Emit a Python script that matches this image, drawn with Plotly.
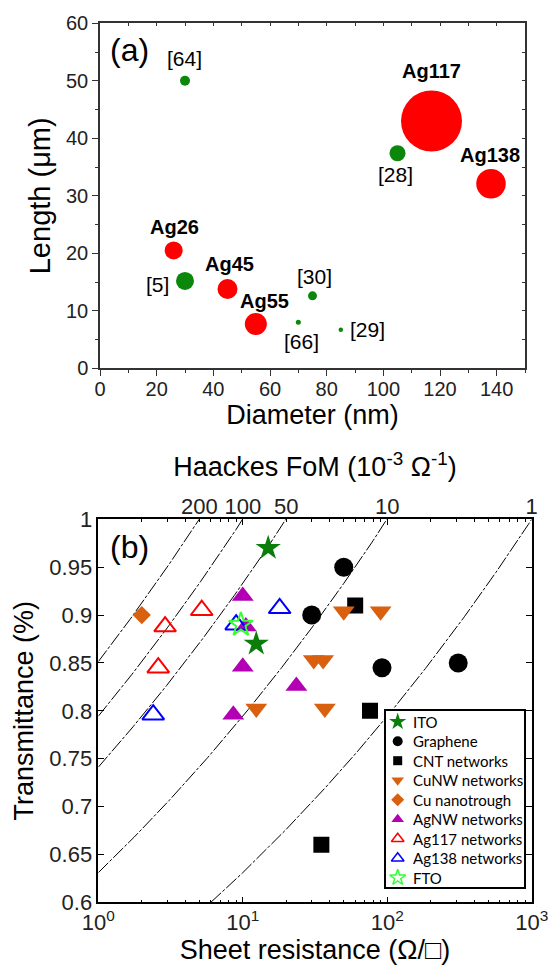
import numpy as np
import plotly.graph_objects as go

# ---------------- (a) nanowire diameter / length ----------------
ag_names = ["Ag26", "Ag45", "Ag55", "Ag117", "Ag138"]
ag_diameter = [26, 45, 55, 117, 138]
ag_length = [20.5, 13.8, 7.7, 43.0, 32.1]
ag_bubble = [1.8, 2.0, 2.2, 6.1, 2.95]

ref_names = ["[64]", "[5]", "[28]", "[30]", "[66]", "[29]"]
ref_diameter = [30, 30, 105, 75, 70, 85]
ref_length = [50.0, 15.2, 37.4, 12.6, 8.0, 6.7]
ref_bubble = [1.0, 1.8, 1.6, 0.9, 0.5, 0.45]

# ---------------- (b) transmittance vs sheet resistance ----------------
ito_rs = [15.0, 12.4]
ito_t = [0.97, 0.87]
graphene_rs = [50, 30, 92, 310]
graphene_t = [0.95, 0.90, 0.845, 0.85]
cnt_rs = [60, 76, 35]
cnt_t = [0.91, 0.80, 0.66]
cunw_rs = [50, 90, 31, 36, 12.4, 37]
cunw_t = [0.904, 0.904, 0.853, 0.853, 0.8025, 0.8025]
cutrough_rs = [2.0]
cutrough_t = [0.90]
agnw_rs = [10, 10.5, 10, 23.5, 8.6]
agnw_t = [0.92, 0.888, 0.846, 0.826, 0.796]
ag117_rs = [2.9, 5.2, 2.6]
ag117_t = [0.888, 0.905, 0.845]
ag138_rs = [18, 9, 2.4]
ag138_t = [0.907, 0.890, 0.796]
fto_rs = [9.7]
fto_t = [0.89]

# Haacke figure of merit levels (Ohm^-1) for the guide curves
fom_levels = [0.2, 0.1, 0.05, 0.01, 0.001]
fom_labels = [str(int(round(f * 1000))) for f in fom_levels]

x_ticks_b = [1, 10, 100, 1000]
x_ticktext_b = ["10<sup>0</sup>", "10<sup>1</sup>", "10<sup>2</sup>", "10<sup>3</sup>"]
y_ticks_b = [0.6, 0.65, 0.7, 0.75, 0.8, 0.85, 0.9, 0.95, 1.0]
y_ticktext_b = ["0.6", "0.65", "0.7", "0.75", "0.8", "0.85", "0.9", "0.95", "1"]

W, H = 549, 968
ARIAL = "Liberation Sans"
RED = "#ff0000"
GREEN_A = "#0b870b"

fig = go.Figure()

# ---- panel (a) bubbles ----
fig.add_trace(go.Scatter(
    x=ref_diameter, y=ref_length, mode="markers", xaxis="x", yaxis="y",
    marker=dict(size=ref_bubble, sizemode="diameter", sizeref=0.1, opacity=1,
                color=GREEN_A, line=dict(width=0)),
    showlegend=False, hoverinfo="skip"))
fig.add_trace(go.Scatter(
    x=ag_diameter, y=ag_length, mode="markers", xaxis="x", yaxis="y",
    marker=dict(size=ag_bubble, sizemode="diameter", sizeref=0.1, opacity=1,
                color=RED, line=dict(width=0)),
    showlegend=False, hoverinfo="skip"))
# carriers for the inward ticks on the top / right frame of (a)
fig.add_trace(go.Scatter(x=[None], y=[None], xaxis="x3", yaxis="y",
                         showlegend=False, hoverinfo="skip"))
fig.add_trace(go.Scatter(x=[None], y=[None], xaxis="x", yaxis="y3",
                         showlegend=False, hoverinfo="skip"))

# label offsets (pixels) for each bubble
ag_shift = [(1, 23.5), (2, 24.5), (9, 23), (0, 49.6), (-1, 29)]
ref_shift = [(-1, 22), (-28, -4), (-2, -21), (2, 19), (3, -19), (27, 0)]

annotations = []
for name, xv, yv, (dx, dy) in zip(ag_names, ag_diameter, ag_length, ag_shift):
    annotations.append(dict(x=xv, y=yv, xref="x", yref="y", text=f"<b>{name}</b>",
                            showarrow=False, xshift=dx, yshift=dy,
                            font=dict(family=ARIAL, size=20, color="black")))
for name, xv, yv, (dx, dy) in zip(ref_names, ref_diameter, ref_length, ref_shift):
    annotations.append(dict(x=xv, y=yv, xref="x", yref="y", text=name,
                            showarrow=False, xshift=dx, yshift=dy,
                            font=dict(family=ARIAL, size=21, color="black")))
annotations.append(dict(x=129.5 / W, y=1 - 50 / H, xref="paper", yref="paper",
                        xanchor="center", yanchor="middle",
                        text="(a)", showarrow=False,
                        font=dict(family=ARIAL, size=32, color="black")))
annotations.append(dict(x=129 / W, y=1 - 546.7 / H, xref="paper", yref="paper",
                        xanchor="center", yanchor="middle",
                        text="(b)", showarrow=False,
                        font=dict(family=ARIAL, size=32, color="black")))

# ---- panel (b) iso-FoM curves ----
rs_grid = np.logspace(0, 3, 400)
for f in fom_levels:
    fig.add_trace(go.Scatter(
        x=rs_grid, y=(f * rs_grid) ** 0.1, mode="lines", xaxis="x2", yaxis="y2",
        line=dict(color="black", width=1, dash="14px,2px,3px,2px"),
        showlegend=False, hoverinfo="skip"))

# ---- panel (b) materials: (name, Rs, T, marker style, key size in the legend box) ----
series_b = [
    ("ITO", ito_rs, ito_t, dict(symbol="star", size=19, color="#0a7d0a"), 13),
    ("Graphene", graphene_rs, graphene_t, dict(symbol="circle", size=19, color="black"), 10),
    ("CNT networks", cnt_rs, cnt_t, dict(symbol="square", size=16, color="black"), 9),
    ("CuNW networks", cunw_rs, cunw_t, dict(symbol="triangle-down", size=19, color="#d9600f"), 11),
    ("Cu nanotrough", cutrough_rs, cutrough_t, dict(symbol="diamond", size=14, color="#d9600f"), 10),
    ("AgNW networks", agnw_rs, agnw_t, dict(symbol="triangle-up", size=19, color="#b400b4"), 11),
    ("Ag117 networks", ag117_rs, ag117_t,
     dict(symbol="triangle-up-open", size=19, color=RED, line=dict(width=2, color=RED)), 11),
    ("Ag138 networks", ag138_rs, ag138_t,
     dict(symbol="triangle-up-open", size=19, color="#0000ff", line=dict(width=2, color="#0000ff")), 11),
    ("FTO", fto_rs, fto_t,
     dict(symbol="star-open", size=18, color="#33ff33", line=dict(width=2, color="#33ff33")), 12),
]
for name, xs, ys, mk, _ in series_b:
    fig.add_trace(go.Scatter(x=xs, y=ys, mode="markers", name=name, xaxis="x2", yaxis="y2",
                             marker=mk, showlegend=False, hoverinfo="skip"))

# carrier for the Haacke FoM labels on top of (b)
fig.add_trace(go.Scatter(x=[None], y=[None], xaxis="x4", yaxis="y2",
                         showlegend=False, hoverinfo="skip"))

# ---- legend box for (b), laid out on its own small pixel-scaled axes ----
LEG_W, LEG_H = 138, 176
LEG_ROW0, LEG_STEP = 10.7, 19.5
KEY_X, TEXT_X = 11.7, 24.5
fig.add_trace(go.Scatter(x=[0, LEG_W, LEG_W, 0, 0], y=[0, 0, LEG_H, LEG_H, 0],
                         mode="lines", fill="toself", fillcolor="white",
                         line=dict(width=0), xaxis="x5", yaxis="y5",
                         showlegend=False, hoverinfo="skip"))
for i, (name, _, _, mk, key_size) in enumerate(series_b):
    key = dict(mk)
    key["size"] = key_size
    if "line" in key:
        key["line"] = dict(key["line"], width=1.5)
    row_y = LEG_ROW0 + i * LEG_STEP
    fig.add_trace(go.Scatter(x=[KEY_X], y=[row_y], mode="markers", marker=key,
                             xaxis="x5", yaxis="y5", showlegend=False, hoverinfo="skip"))
    annotations.append(dict(x=TEXT_X, y=row_y, xref="x5", yref="y5", text=name,
                            xanchor="left", yanchor="middle", showarrow=False,
                            font=dict(family="Lato", size=15, color="black")))

frame_a = "#333333"
tickfont_a = dict(family=ARIAL, size=20, color="#222")
tickfont_b = dict(family=ARIAL, size=22, color="#222")

fig.update_layout(
    width=W, height=H,
    margin=dict(l=0, r=0, t=0, b=0, autoexpand=False),
    paper_bgcolor="white", plot_bgcolor="white",
    annotations=annotations,
    xaxis=dict(domain=[100 / W, 525 / W], anchor="y", range=[0, 150],
               tickmode="array", tickvals=list(range(0, 141, 20)),
               ticks="outside", ticklen=6, tickwidth=1.3, tickcolor=frame_a,
               minor=dict(dtick=10, tick0=0, ticks="outside", ticklen=3,
                          tickwidth=1.3, tickcolor=frame_a, showgrid=False),
               showline=True, linecolor=frame_a, linewidth=1.5, mirror=True,
               showgrid=False, zeroline=False, tickfont=tickfont_a, automargin=False,
               ticklabelstandoff=-4,
               title=dict(text="Diameter (nm)", standoff=1,
                          font=dict(family=ARIAL, size=27, color="black"))),
    yaxis=dict(domain=[1 - 368.3 / H, 1 - 23.3 / H], anchor="x", range=[0, 60],
               tickmode="array", tickvals=list(range(0, 61, 10)),
               ticks="outside", ticklen=6, tickwidth=1.3, tickcolor=frame_a,
               minor=dict(dtick=5, tick0=0, ticks="outside", ticklen=3,
                          tickwidth=1.3, tickcolor=frame_a, showgrid=False),
               showline=True, linecolor=frame_a, linewidth=1.5, mirror=True,
               showgrid=False, zeroline=False, tickfont=tickfont_a, automargin=False,
               title=dict(text="Length (μm)", standoff=7,
                          font=dict(family=ARIAL, size=29, color="black"))),
    xaxis3=dict(overlaying="x", anchor="y", side="top", range=[0, 150],
                tickmode="linear", tick0=0, dtick=10, ticks="inside", ticklen=3,
                tickwidth=1.3, tickcolor=frame_a, showticklabels=False, automargin=False,
                showline=False, showgrid=False, zeroline=False),
    yaxis3=dict(overlaying="y", anchor="x", side="right", range=[0, 60],
                tickmode="linear", tick0=0, dtick=5, ticks="inside", ticklen=3,
                tickwidth=1.3, tickcolor=frame_a, showticklabels=False, automargin=False,
                showline=False, showgrid=False, zeroline=False),
    xaxis2=dict(domain=[98.3 / W, 531.7 / W], anchor="y2", type="log", range=[0, 3],
                tickmode="array", tickvals=x_ticks_b, ticktext=x_ticktext_b,
                ticks="inside", ticklen=6, tickwidth=1, tickcolor="black",
                minor=dict(tickmode="array",
                           tickvals=[m * 10 ** e for e in range(3) for m in range(2, 10)],
                           ticks="inside", ticklen=3, tickwidth=1, tickcolor="black",
                           showgrid=False),
                showline=True, linecolor="black", linewidth=1.5, mirror="ticks",
                showgrid=False, zeroline=False, tickfont=tickfont_b, automargin=False,
                title=dict(text="Sheet resistance (Ω/□)", standoff=2,
                           font=dict(family=ARIAL, size=27, color="black"))),
    yaxis2=dict(domain=[1 - 902.3 / H, 1 - 519.3 / H], anchor="x2", range=[0.6, 1.0],
                tickmode="array", tickvals=y_ticks_b, ticktext=y_ticktext_b,
                ticks="inside", ticklen=6, tickwidth=1, tickcolor="black",
                showline=True, linecolor="black", linewidth=1.5, mirror="ticks",
                showgrid=False, zeroline=False, tickfont=tickfont_b, automargin=False,
                title=dict(text="Transmittance (%)", standoff=8,
                           font=dict(family=ARIAL, size=27, color="black"))),
    xaxis4=dict(overlaying="x2", anchor="y2", side="top", type="log", range=[0, 3],
                tickmode="array", tickvals=[1 / f for f in fom_levels], ticktext=fom_labels,
                ticks="", showline=False, showgrid=False, zeroline=False,
                tickfont=tickfont_b, automargin=False,
                title=dict(text="Haackes FoM (10<sup>-3</sup> Ω<sup>-1</sup>)", standoff=9,
                           font=dict(family=ARIAL, size=27, color="black"))),
    xaxis5=dict(domain=[386 / W, 524 / W], anchor="y5", range=[0, LEG_W],
                showline=True, mirror=True, linecolor="black", linewidth=1.5,
                ticks="", showticklabels=False, showgrid=False, zeroline=False,
                fixedrange=True, automargin=False),
    yaxis5=dict(domain=[1 - 887 / H, 1 - 711 / H], anchor="x5", range=[LEG_H, 0],
                showline=True, mirror=True, linecolor="black", linewidth=1.5,
                ticks="", showticklabels=False, showgrid=False, zeroline=False,
                fixedrange=True, automargin=False),
    showlegend=False,
)

fig.write_html("out.html")
